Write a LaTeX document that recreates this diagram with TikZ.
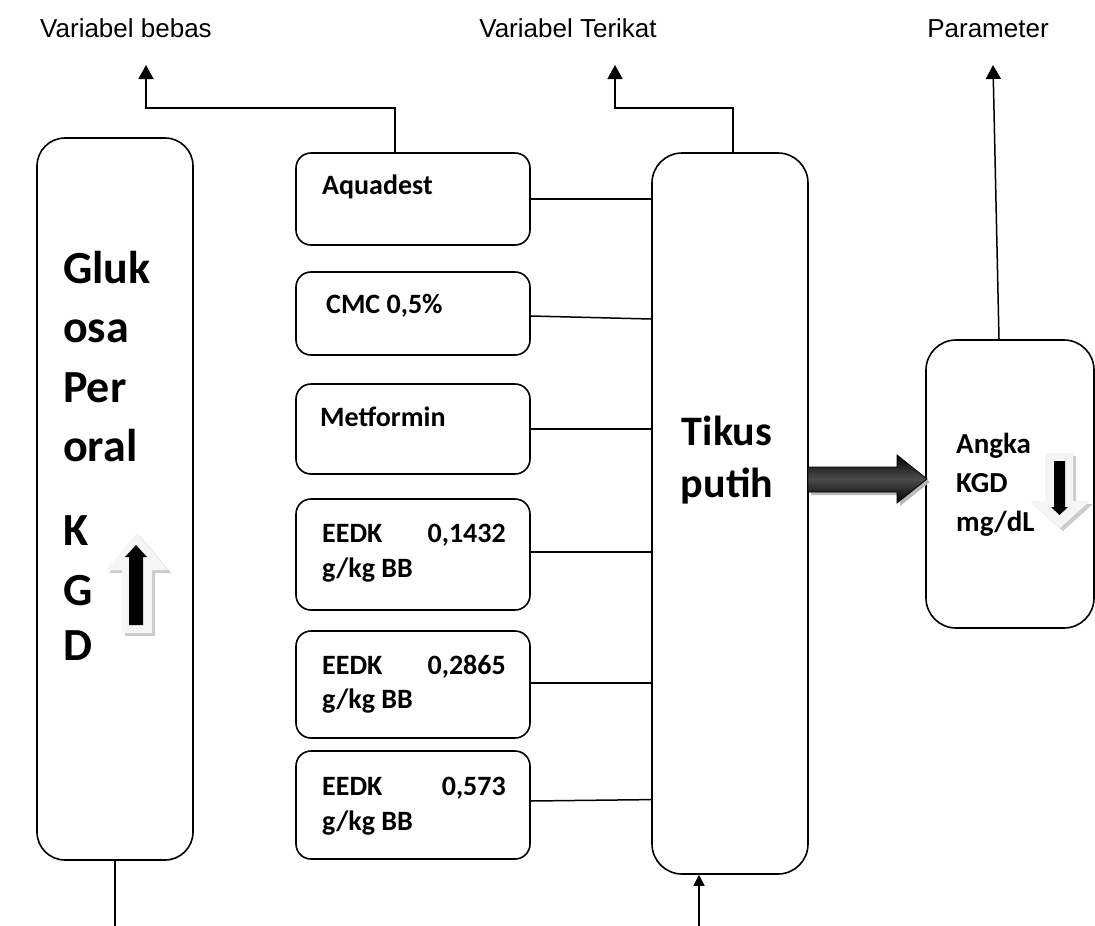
\documentclass[tikz,border=0pt]{standalone}
\usepackage{fontspec}
\setmainfont{Liberation Sans}
\newfontfamily\calb[BoldFont={Carlito Bold}]{Carlito}
\usetikzlibrary{arrows.meta,calc}
\begin{document}
\begin{tikzpicture}[x=1pt,y=-1pt,
  box/.style={draw,line width=1.6pt,rounded corners=#1,inner sep=0pt},
  hdr/.style={anchor=base,inner sep=0pt,font=\fontsize{26}{30}\selectfont},
  mtxt/.style={anchor=base west,inner sep=0pt,font=\calb\bfseries\fontsize{28}{34}\selectfont},
  big/.style={anchor=base west,inner sep=0pt,font=\calb\bfseries\fontsize{46}{56}\selectfont},
  tik/.style={anchor=base,inner sep=0pt,font=\calb\bfseries\fontsize{42}{50}\selectfont},
  atxt/.style={anchor=base west,inner sep=0pt,font=\calb\bfseries\fontsize{29}{36}\selectfont},
  conn/.style={line width=1.5pt},
  arr/.style={line width=1.5pt,-{Triangle[width=15pt,length=14pt]}},
  arrs/.style={line width=1.5pt,-{Triangle[width=11pt,length=11pt]}}]
\useasboundingbox (0,0) rectangle (1095,926);

% headers
\node[hdr] (h1) at (126,37) {Variabel bebas};
\node[hdr] (h2) at (568,37) {Variabel Terikat};
\node[hdr] (h3) at (988,37) {Parameter};

% boxes
\node[box=28,minimum width=156pt,minimum height=722pt] (lb) at (115,499) {};
\node[box=15,minimum width=234pt,minimum height=92pt] (aq) at (413,199) {};
\node[box=15,minimum width=234pt,minimum height=83pt] (cmc) at (413,313.5) {};
\node[box=15,minimum width=234pt,minimum height=90pt] (met) at (413,429) {};
\node[box=15,minimum width=234pt,minimum height=111pt] (e1) at (413,554.5) {};
\node[box=15,minimum width=234pt,minimum height=107pt] (e2) at (413,684.5) {};
\node[box=15,minimum width=234pt,minimum height=108pt] (e3) at (413,805) {};
\node[box=30,minimum width=156pt,minimum height=721pt] (tk) at (730,513.5) {};
\node[box=30,minimum width=168pt,minimum height=288pt] (ang) at (1010,484) {};

% left box text
\node[big] (g1) at (63,283) {Gluk};
\node[big] (g2) at (63,342) {osa};
\node[big] (g3) at (63,402) {Per};
\node[big] (g4) at (63,461) {oral};
\node[big] (g5) at (63,545) {K};
\node[big] (g6) at (63,605) {G};
\node[big] (g7) at (63,660) {D};

% middle texts
\node[mtxt] (t1) at (322,194) {Aquadest};
\node[mtxt] (t2) at (326,313) {CMC 0,5\%};
\node[mtxt] (t3) at (320,426) {Metformin};
\node[mtxt] (t4a) at (322,542) {EEDK};
\node[mtxt,anchor=base east] (t4b) at (506,542) {0,1432};
\node[mtxt] (t4c) at (322,577) {g/kg BB};
\node[mtxt] (t5a) at (322,674) {EEDK};
\node[mtxt,anchor=base east] (t5b) at (506,674) {0,2865};
\node[mtxt] (t5c) at (322,708) {g/kg BB};
\node[mtxt] (t6a) at (322,795) {EEDK};
\node[mtxt,anchor=base east] (t6b) at (506,795) {0,573};
\node[mtxt] (t6c) at (322,830) {g/kg BB};

% tikus
\node[tik] (tk1) at (727,445) {Tikus};
\node[tik] (tk2) at (727,497) {putih};

% angka
\node[atxt] (a1) at (956,453) {Angka};
\node[atxt] (a2) at (956,492) {KGD};
\node[atxt] (a3) at (956,531) {mg/dL};

% connectors middle -> tikus
\draw[conn] (aq.east) -- (aq.east -| tk.west);
\draw[conn] ($(cmc.east)+(0,2.5)$) -- ($(cmc.east -| tk.west)+(0,5.5)$);
\draw[conn] (met.east) -- (met.east -| tk.west);
\draw[conn] ($(e1.east)+(0,-2.5)$) -- ($(e1.east -| tk.west)+(0,-2.5)$);
\draw[conn] ($(e2.east)+(0,-1.5)$) -- ($(e2.east -| tk.west)+(0,-1.5)$);
\draw[conn] ($(e3.east)+(0,-4)$) -- ($(e3.east -| tk.west)+(0,-5.4)$);

% top arrows
\coordinate (vb) at (146,65);
\coordinate (vt) at (615,65);
\coordinate (pm) at (993,65);
\draw[arr] ($(aq.north)+(-18,0)$) -- ++(0,-44) -| (vb);
\draw[arr] ($(tk.north)+(3,0)$) -- ++(0,-44) -| (vt);
\draw[arr] ($(ang.north)+(-11,0)$) -- (pm);

% bottom lines
\coordinate (b1) at (115,926);
\coordinate (b2) at (699,926);
\draw[conn] (lb.south) -- (b1);
\draw[arrs] (b2) -- ($(tk.south)+(-31,0)$);

% big arrow tikus -> angka
\fill[gray!55] (811,470) -- (900,470) -- (900,458) -- (930,482) -- (900,506) -- (900,495) -- (811,495) -- cycle;
\shade[top color=black,bottom color=black,middle color=black!70,draw=black,line width=0.8pt]
  (808,467) -- (897,467) -- (897,455) -- (927,479) -- (897,503) -- (897,492) -- (808,492) -- cycle;

% up arrow in left box
\fill[gray!40] (125,636) -- (125,573) -- (109,573) -- (140,536) -- (171,573) -- (155,573) -- (155,636) -- cycle;
\fill[gray!8] (122,633) -- (122,570) -- (106,570) -- (137,533) -- (168,570) -- (152,570) -- (152,633) -- cycle;
\fill[black] (129,625) -- (129,557) -- (125,557) -- (136,545) -- (147,557) -- (143,557) -- (143,625) -- cycle;

% down arrow in angka box
\fill[gray!40] (1048,456) -- (1076,456) -- (1076,504) -- (1093,504) -- (1063,531) -- (1033,504) -- (1048,504) -- cycle;
\fill[gray!8] (1045,453) -- (1073,453) -- (1073,501) -- (1090,501) -- (1060,528) -- (1030,501) -- (1045,501) -- cycle;
\fill[black] (1054,461) -- (1065,461) -- (1065,507) -- (1068,507) -- (1059.5,515) -- (1051,507) -- (1054,507) -- cycle;
\end{tikzpicture}
\end{document}
